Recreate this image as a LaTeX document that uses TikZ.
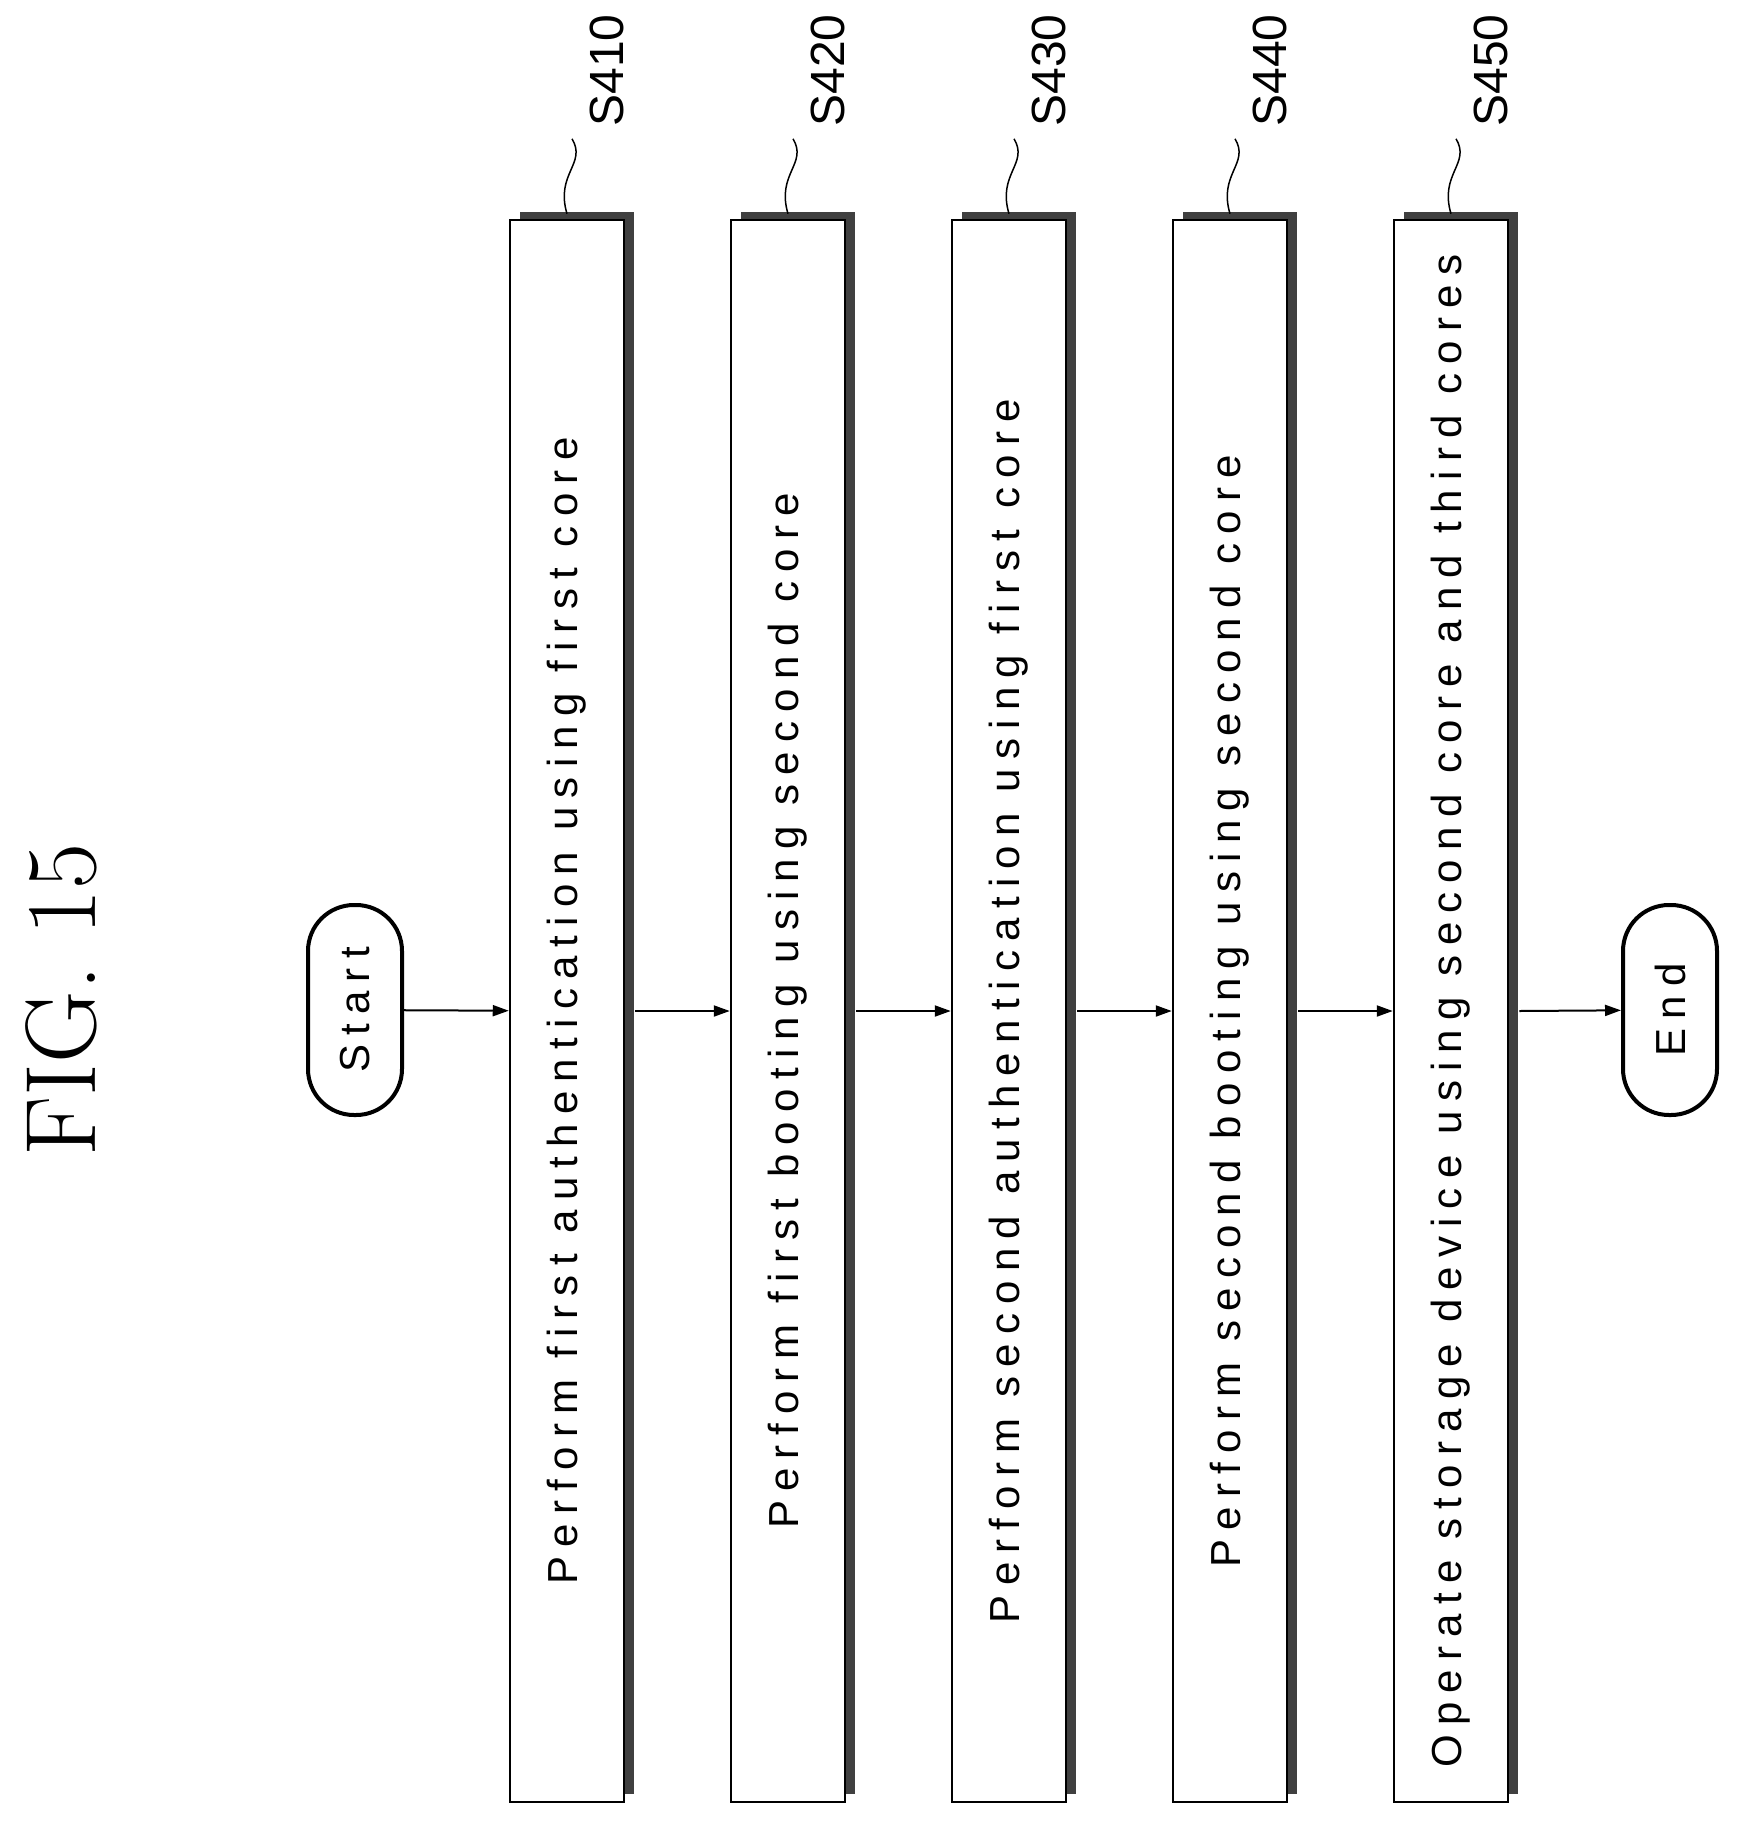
\documentclass[tikz,border=0pt]{standalone}
\usepackage{fontspec}
\setsansfont{Liberation Sans}
\usetikzlibrary{calc,arrows.meta,positioning}
\newfontfamily\stepfont[LetterSpace=22]{Liberation Sans}

\begin{document}
\begin{tikzpicture}[x=1pt,y=-1pt,>={Triangle[length=16pt,width=11pt]},
    stepbox/.style={draw, line width=2.5pt, fill=white, minimum width=114pt, minimum height=1582pt, inner sep=0pt},
    termbox/.style={draw, line width=2.5pt, rounded corners=46pt, minimum width=94pt, minimum height=210pt, inner sep=0pt},
    shade/.style={fill=black!75},
    steplabel/.style={font=\fontsize{48}{48}\sffamily, inner sep=0pt}]
			\useasboundingbox (0,0) rectangle (1746,1822);
			% Title
			\node[rotate=90, font=\fontsize{100}{100}\selectfont] (title) at (61,1000) {FIG. 15};
			% Terminals
			\node[termbox, line width=4pt] (start) at (355,1010) {\rotatebox{90}{\stepfont\fontsize{42}{42}\selectfont Start}};
			\node[termbox, line width=4pt] (end) at (1670,1010) {\rotatebox{90}{\stepfont\fontsize{42}{42}\selectfont End}};
			% Steps
			\foreach \i/\name/\txt in {0/s410/Perform first authentication using first core,
			                       1/s420/Perform first booting using second core,
			                       2/s430/Perform second authentication using first core,
			                       3/s440/Perform second booting using second core,
			                       4/s450/Operate storage device using second core and third cores}{
				\fill[shade] (520+221*\i,212) rectangle ++(114,1582);
				\node[stepbox] (\name) at (567+221*\i,1011) {\rotatebox{90}{\stepfont\fontsize{42}{42}\selectfont \txt}};
				\coordinate (\name tip) at ($(\name.north)+(5,-80)$);
				\node[steplabel, rotate=90, anchor=west] at ($(\name.north)+(40,-92)$) {S\number\numexpr410+10*\i\relax};
				\draw[line width=1.5pt] (\name tip) .. controls +(15,25) and +(-12,-40) .. ($(\name.north)+(0,-5)$);
			}
			% Arrows
			\draw[->, line width=2pt] (start) -- (s410);
			\draw[->, line width=2pt] ($(s410.east)+(10,0)$) -- (s420);
			\draw[->, line width=2pt] ($(s420.east)+(10,0)$) -- (s430);
			\draw[->, line width=2pt] ($(s430.east)+(10,0)$) -- (s440);
			\draw[->, line width=2pt] ($(s440.east)+(10,0)$) -- (s450);
			\draw[->, line width=2pt] ($(s450.east)+(10,0)$) -- (end);
\end{tikzpicture}
\end{document}
